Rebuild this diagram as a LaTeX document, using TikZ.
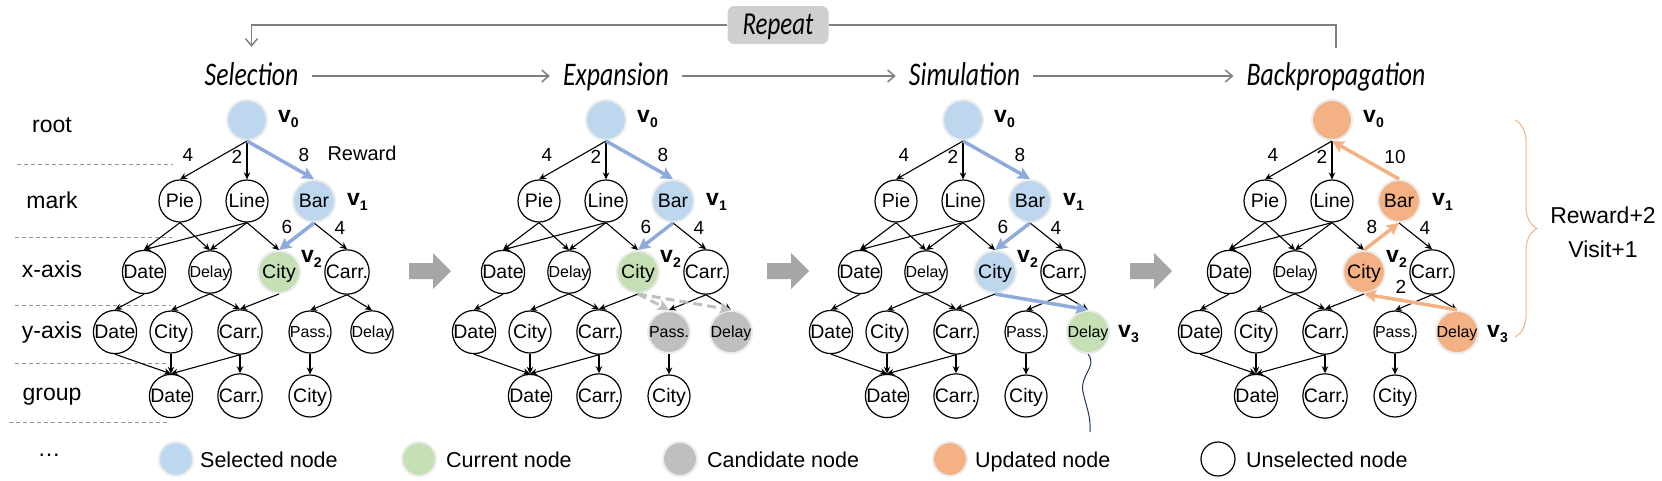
\documentclass[tikz,border=0pt]{standalone}
\usepackage{fontspec}
\setmainfont{Liberation Sans}
\newfontfamily\headfont[FakeStretch=0.78]{Carlito}
\usetikzlibrary{arrows.meta,decorations.pathreplacing}
\definecolor{selblue}{HTML}{BDD7EE}
\definecolor{curgreen}{HTML}{C5E0B4}
\definecolor{candgray}{HTML}{BFBFBF}
\definecolor{updorange}{HTML}{F4B183}
\definecolor{bluearrow}{HTML}{8FAADC}
\definecolor{orangearrow}{HTML}{F4B183}
\definecolor{halo}{HTML}{EBEBEB}
\definecolor{flowgray}{HTML}{808080}
\definecolor{blockgray}{HTML}{A6A6A6}
\definecolor{navy}{HTML}{1F3864}
\definecolor{repfill}{HTML}{CFCFCF}
\tikzset{
  tn/.style={circle, minimum size=42pt, inner sep=0pt, text height=13.5pt, text depth=0pt,
    font=\fontsize{19.5}{21}\selectfont},
  wn/.style={tn, draw=black, line width=1.2pt, fill=white},
  sn/.style={tn, fill=selblue, draw=halo, line width=2pt},
  cn/.style={tn, fill=curgreen, draw=halo, line width=2pt},
  gn/.style={tn, fill=candgray, draw=halo, line width=2pt},
  on/.style={tn, fill=updorange, draw=halo, line width=2pt},
  small/.style={font=\fontsize{16}{17}\selectfont, text height=11.5pt},
  ed/.style={draw=black, line width=1.1pt, -{Stealth[length=7pt,width=6.5pt]}},
  bl/.style={draw=bluearrow, line width=3.5pt, -{Stealth[length=12pt,width=12pt,inset=2pt]}},
  orr/.style={draw=orangearrow, line width=3.5pt, -{Stealth[length=12pt,width=12pt,inset=2pt]}},
  cand/.style={draw=candgray, line width=3pt, dash pattern=on 9pt off 5pt, -{Stealth[length=11pt,width=11pt,inset=2pt]}},
  lab/.style={font=\fontsize{19}{20}\selectfont, inner sep=0pt},
  vlab/.style={inner sep=0pt, anchor=base west},
  lvl/.style={font=\fontsize{23}{24}\selectfont, inner sep=0pt, anchor=base},
  sepline/.style={draw=gray!85, line width=1pt, dash pattern=on 4pt off 3pt},
  hd/.style={font=\headfont\itshape\fontsize{33}{36}\selectfont, inner xsep=13pt, inner ysep=0pt,
    text height=25pt, text depth=7pt, anchor=base},
  flow/.style={draw=flowgray, line width=1.5pt},
  flowtip/.style={-{Straight Barb[length=7pt,width=12pt]}},
  legt/.style={font=\fontsize{21.5}{23}\selectfont, inner sep=0pt, anchor=base west},
  legc/.style={minimum size=34pt},
}
\newcommand\vsub[1]{\fontsize{23}{23}\selectfont\bfseries v\raisebox{-5pt}{\fontsize{14}{14}\selectfont #1}}
\newcommand\mytree[7]{%
  \node[#3, minimum size=40pt] (#1r) at (#2,120) {};
  \node[wn] (#1pie) at (#2-67,201) {Pie};
  \node[wn] (#1line) at (#2,201) {Line};
  \node[#4] (#1bar) at (#2+67,201) {Bar};
  \node[wn] (#1xdate) at (#2-103,272) {Date};
  \node[wn,small] (#1xdelay) at (#2-37,272) {Delay};
  \node[#5] (#1xcity) at (#2+32,272) {City};
  \node[wn] (#1xcarr) at (#2+100,272) {Carr.};
  \node[wn] (#1ydate) at (#2-132,332) {Date};
  \node[wn] (#1ycity) at (#2-76,332) {City};
  \node[wn] (#1ycarr) at (#2-7,332) {Carr.};
  \node[#6,small] (#1ypass) at (#2+63,332) {Pass.};
  \node[#7,small] (#1ydelay) at (#2+125,332) {Delay};
  \node[wn] (#1gdate) at (#2-76,396) {Date};
  \node[wn] (#1gcarr) at (#2-7,396) {Carr.};
  \node[wn] (#1gcity) at (#2+63,396) {City};
  \draw[ed] (#1r.south) -- (#1pie.north);
  \draw[ed] (#1r.south) -- (#1line.north);
  \draw[ed] (#1pie.south) -- (#1xdate.north);
  \draw[ed] (#1pie.south) -- (#1xdelay.north);
  \draw[ed] (#1line.south) -- (#1xdate.north);
  \draw[ed] (#1line.south) -- (#1xdelay.north);
  \draw[ed] (#1line.south) -- (#1xcity.north);
  \draw[ed] (#1bar.south) -- (#1xcarr.north);
  \draw[ed] (#1xdate.south) -- (#1ydate.north);
  \draw[ed] (#1xdelay.south) -- (#1ycity.north);
  \draw[ed] (#1xdelay.south) -- (#1ycarr.north);
  \draw[ed] (#1xcity.south) -- (#1ycarr.north);
  \draw[ed] (#1xcarr.south) -- (#1ypass.north);
  \draw[ed] (#1xcarr.south) -- (#1ydelay.north);
  \draw[ed] (#1ydate.south) -- (#1gdate.north);
  \draw[ed] (#1ycity.south) -- (#1gdate.north);
  \draw[ed] (#1ycarr.south) -- (#1gdate.north);
  \draw[ed] (#1ycarr.south) -- (#1gcarr.north);
  \draw[ed] (#1ypass.south) -- (#1gcity.north);
  \node[lab] (#1l4) at (#2-59,155) {4};
  \node[lab] (#1l2) at (#2-10,157) {2};
  \node[lab] (#1l4b) at (#2+93,228) {4};
  \node[vlab] (#1v0) at (#2+31,122) {\vsub{0}};
  \node[vlab] (#1v1) at (#2+100,205) {\vsub{1}};
  \node[vlab] (#1v2) at (#2+54,262) {\vsub{2}};
}
\newcommand\blockarrow[1]{%
  \fill[blockgray] (#1,263) -- (#1+24,263) -- (#1+24,253) -- (#1+42,271) -- (#1+24,289) -- (#1+24,279) -- (#1,279) -- cycle;}
\begin{document}
\begin{tikzpicture}[x=1pt,y=-1pt]
\useasboundingbox (0,0) rectangle (1662,480);
% level labels
\node[lvl] (lroot) at (52,132) {root};
\node[lvl] (lmark) at (52,208) {mark};
\node[lvl] (lx) at (52,277) {x-axis};
\node[lvl] (ly) at (52,338) {y-axis};
\node[lvl] (lg) at (52,400) {group};
\node[lvl] (ldots) at (49,456) {…};
\draw[sepline] (17,164) -- (173,164);
\draw[sepline] (15,237) -- (172,237);
\draw[sepline] (15,305) -- (171,305);
\draw[sepline] (15,363) -- (166,363);
\draw[sepline] (9,422) -- (167,422);
% headings
\node[hd] (hSel) at (251.5,85) {Selection};
\node[hd] (hExp) at (616,85) {Expansion};
\node[hd] (hSim) at (964.5,85) {Simulation};
\node[hd] (hBack) at (1336,85) {Backpropagation};
\draw[flow,flowtip] (hSel.east) -- (hExp.west);
\draw[flow,flowtip] (hExp.east) -- (hSim.west);
\draw[flow,flowtip] (hSim.east) -- (hBack.west);
\node[rounded corners=7pt, fill=repfill, minimum width=101pt, minimum height=38pt, inner sep=0pt,
  font=\headfont\itshape\fontsize{32}{34}\selectfont, text height=21pt, text depth=3pt] (rep) at (778,25) {Repeat};
\draw[flow, shorten <=12pt] (hBack.north) |- (rep.east);
\draw[flow, flowtip, shorten >=13pt] (rep.west) -| (hSel.north);
% trees
\mytree{A}{247}{sn}{sn}{cn}{wn}{wn}
\draw[bl] (Ar.south) -- (Abar.north);
\draw[bl] (Abar.south) -- (Axcity.north);
\node[lab] (Al8) at (304,155) {8};
\node[lab] (Al6) at (287,227) {6};
\node[font=\fontsize{20}{22}\selectfont, inner sep=0pt] (rew) at (362,153) {Reward};

\mytree{B}{606}{sn}{sn}{cn}{gn}{gn}
\draw[bl] (Br.south) -- (Bbar.north);
\draw[bl] (Bbar.south) -- (Bxcity.north);
\draw[cand] (Bxcity.south) -- (Bypass.north);
\draw[cand] (Bxcity.south) -- (Bydelay.north);
\node[lab] (Bl8) at (663,155) {8};
\node[lab] (Bl6) at (646,227) {6};

\mytree{C}{963}{sn}{sn}{sn}{wn}{cn}
\draw[bl] (Cr.south) -- (Cbar.north);
\draw[bl] (Cbar.south) -- (Cxcity.north);
\draw[bl] (Cxcity.south) -- (Cydelay.north);
\node[lab] (Cl8) at (1020,155) {8};
\node[lab] (Cl6) at (1003,227) {6};
\node[vlab] (Cv3) at (1118,337) {\vsub{3}};
\coordinate (wend) at (1090,432);
\draw[navy, line width=1pt] (Cydelay.south) .. controls (1098,366) and (1079,376) .. (1083,392) .. controls (1086,406) and (1091,416) .. (wend);

\mytree{D}{1332}{on}{on}{on}{wn}{on}
\draw[orr] (Dbar.north) -- (Dr.south);
\draw[orr] (Dxcity.north) -- (Dbar.south);
\draw[orr] (Dydelay.north) -- (Dxcity.south);
\node[lab] (Dl10) at (1395,157) {10};
\node[lab] (Dl8) at (1372,227) {8};
\node[lab] (Dl2) at (1401,287) {2};
\node[vlab] (Dv3) at (1487,337) {\vsub{3}};
\draw[updorange, line width=1pt, decorate, decoration={brace, amplitude=22pt}] (1515,120) -- (1515,337);
\node[font=\fontsize{23}{24}\selectfont, inner sep=0pt, anchor=base] (rw2) at (1603,223) {Reward+2};
\node[font=\fontsize{23}{24}\selectfont, inner sep=0pt, anchor=base] (vs1) at (1603,257) {Visit+1};
% block arrows
\blockarrow{409}
\blockarrow{767}
\blockarrow{1130}
% legend
\node[sn, legc] (lg1) at (176,459) {};
\node[legt] (lt1) at (200,467) {Selected node};
\node[cn, legc] (lg2) at (419,459) {};
\node[legt] (lt2) at (446,467) {Current node};
\node[gn, legc] (lg3) at (680,459) {};
\node[legt] (lt3) at (707,467) {Candidate node};
\node[on, legc] (lg4) at (950,459) {};
\node[legt] (lt4) at (975,467) {Updated node};
\node[wn, legc] (lg5) at (1218,459) {};
\node[legt] (lt5) at (1246,467) {Unselected node};
\end{tikzpicture}
\end{document}
